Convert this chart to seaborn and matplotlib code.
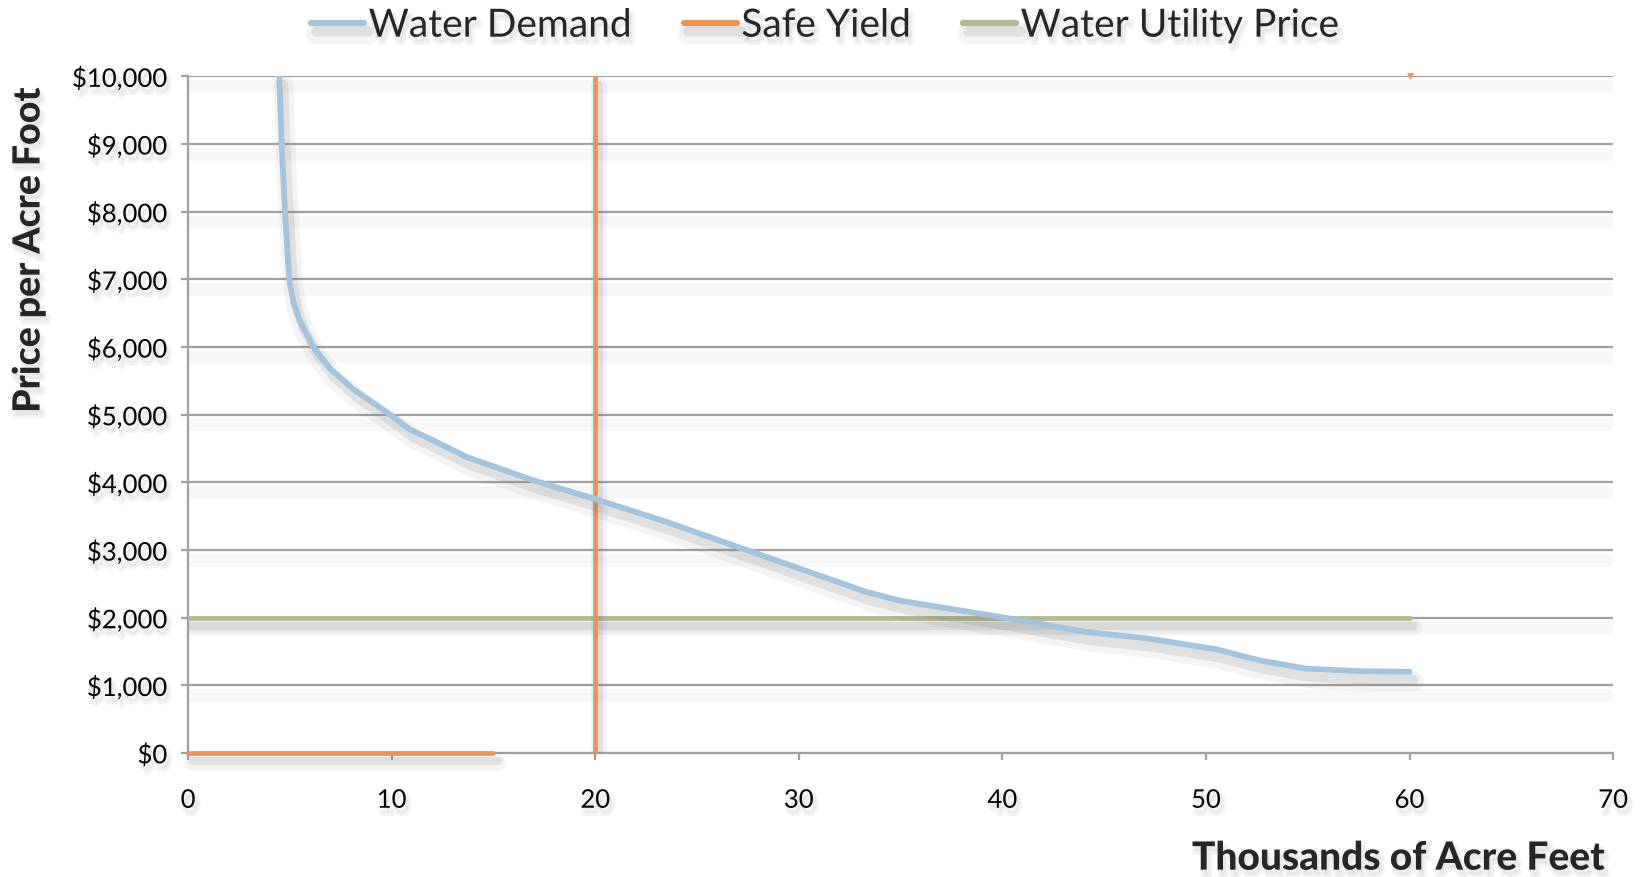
import pandas as pd
import matplotlib
matplotlib.use("Agg")
import matplotlib.pyplot as plt
import matplotlib.patheffects as pe
from matplotlib.lines import Line2D
from matplotlib.ticker import StrMethodFormatter, MultipleLocator
import seaborn as sns

# --- data ---
demand_x = [4.48, 4.60, 4.76, 4.97, 5.17, 5.50, 6.15, 6.97, 8.1, 9.92, 10.9, 12.04,
            13.68, 16.95, 20.03, 23.5, 26.77, 30.04, 33.32, 35.0, 37.35, 39.9,
            44.1, 47.2, 50.5, 52.6, 54.9, 57.6, 60.0]
demand_y = [10000, 9000, 8000, 7000, 6670, 6380, 6000, 5680, 5380, 5000, 4780, 4620,
            4375, 4030, 3750, 3415, 3070, 2725, 2380, 2250, 2135, 2011,
            1790, 1690, 1533, 1371, 1248, 1208, 1200]

yield_base_x = [0, 15]
yield_base_y = [0, 0]
yield_vert_x = [20, 20]
yield_vert_y = [0, 10000]
yield_dot_x = [60]
yield_dot_y = [10000]

utility_x = [0, 60]
utility_y = [2000, 2000]

series_names = ["Water Demand", "Safe Yield", "Water Utility Price"]
colors = ["#a4c3dd", "#e8945a", "#b2b98f"]

sns.set_theme(style="white")
plt.rcParams["font.family"] = ["Lato", "DejaVu Sans"]

# soft drop shadow, Excel style
def shadow(lw):
    return [pe.SimpleLineShadow(offset=(3, -7), shadow_color="#707070", alpha=0.08, linewidth=lw * 3.4),
            pe.SimpleLineShadow(offset=(3, -6), shadow_color="#707070", alpha=0.14, linewidth=lw * 1.7),
            pe.Normal()]

text_shadow = [pe.SimplePatchShadow(offset=(2, -4), shadow_rgbFace="#909090", alpha=0.10,
                                    foreground="#909090", linewidth=4),
               pe.Normal()]

fig, ax = plt.subplots(figsize=(16.41, 8.78), dpi=100)
fig.subplots_adjust(left=0.1146, right=0.983, bottom=0.1412, top=0.912)

df_demand = pd.DataFrame({"x": demand_x, "y": demand_y})
df_utility = pd.DataFrame({"x": utility_x, "y": utility_y})
df_base = pd.DataFrame({"x": yield_base_x, "y": yield_base_y})
df_vert = pd.DataFrame({"x": yield_vert_x, "y": yield_vert_y})

lw = 3.4
sns.lineplot(data=df_utility, x="x", y="y", ax=ax, color=colors[2], linewidth=lw,
             sort=False, estimator=None, solid_capstyle="round", path_effects=shadow(lw), zorder=3)
sns.lineplot(data=df_base, x="x", y="y", ax=ax, color=colors[1], linewidth=lw,
             sort=False, estimator=None, path_effects=shadow(lw), zorder=4, clip_on=False)
sns.lineplot(data=df_vert, x="x", y="y", ax=ax, color=colors[1], linewidth=lw,
             sort=False, estimator=None, path_effects=shadow(lw), zorder=4)
sns.scatterplot(x=yield_dot_x, y=yield_dot_y, ax=ax, color=colors[1], marker="v", s=25,
                linewidth=0, zorder=4, clip_on=False)
sns.lineplot(data=df_demand, x="x", y="y", ax=ax, color=colors[0], linewidth=4.2,
             sort=False, estimator=None, solid_capstyle="round", solid_joinstyle="round",
             path_effects=shadow(4.2), zorder=5)

ax.set_xlim(0, 70)
ax.set_ylim(0, 10000)
ax.xaxis.set_major_locator(MultipleLocator(10))
ax.yaxis.set_major_locator(MultipleLocator(1000))
ax.yaxis.set_major_formatter(StrMethodFormatter("${x:,.0f}"))

grid_col = "#a0a0a0"
ax.grid(axis="y", color=grid_col, linewidth=1.6)
ax.grid(axis="x", visible=False)
ax.set_axisbelow(True)
for gl in ax.get_ygridlines():
    gl.set_path_effects([pe.SimpleLineShadow(offset=(2, -7), shadow_color="#808080", alpha=0.06, linewidth=9),
                         pe.Normal()])

for side in ["top", "right"]:
    ax.spines[side].set_visible(False)
for side in ["left", "bottom"]:
    ax.spines[side].set_color(grid_col)
    ax.spines[side].set_linewidth(1.6)

ax.tick_params(axis="both", which="major", direction="out", length=5, width=1.6,
               color=grid_col, labelsize=18.5, labelcolor="black")
ax.tick_params(axis="x", pad=20, bottom=True)
ax.tick_params(axis="y", pad=10, left=True)
for lab in ax.get_xticklabels() + ax.get_yticklabels():
    lab.set_path_effects(text_shadow)

ax.set_xlabel("Thousands of Acre Feet", fontsize=28, fontweight="black", loc="right",
              path_effects=text_shadow)
ax.xaxis.set_label_coords(0.994, -0.128)
ax.set_ylabel("Price per Acre Foot", fontsize=27, fontweight="black", path_effects=text_shadow)
ax.yaxis.set_label_coords(-0.100, 0.743)

handles = [Line2D([0], [0], color=c, linewidth=4.5, solid_capstyle="round", path_effects=shadow(4.5))
           for c in colors]
leg = fig.legend(handles, series_names, loc="upper center", bbox_to_anchor=(0.503, 1.03), ncol=3,
                 frameon=False, fontsize=28, handlelength=1.35, handletextpad=0.12, columnspacing=1.35)
for t in leg.get_texts():
    t.set_path_effects(text_shadow)

plt.savefig("out.png", dpi=100)
plt.close()
